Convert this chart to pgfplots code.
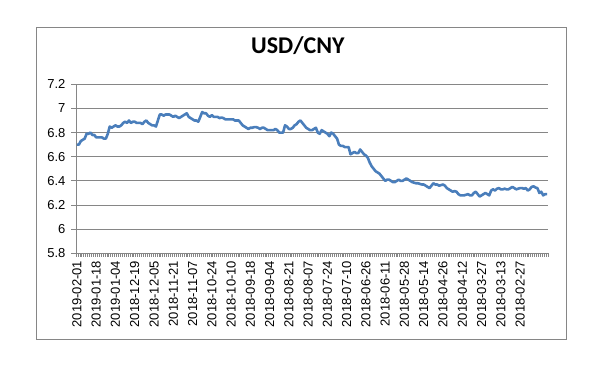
\documentclass[border=0pt]{standalone}
\usepackage{fontspec}
\setmainfont{Liberation Sans}
\newfontfamily\titlefont{Carlito}
\usepackage{pgfplots}
\usepackage{pgfplotstable}
\pgfplotsset{compat=1.18}
\definecolor{excelblue}{RGB}{74,126,187}
\definecolor{gridgray}{RGB}{134,134,134}
\definecolor{boxgray}{RGB}{134,134,134}
\pgfplotstableread{
v
6.70
6.70
6.73
6.74
6.75
6.79
6.79
6.80
6.78
6.78
6.76
6.76
6.76
6.76
6.75
6.75
6.79
6.85
6.84
6.85
6.86
6.85
6.85
6.86
6.88
6.89
6.88
6.90
6.88
6.89
6.89
6.88
6.88
6.88
6.87
6.89
6.90
6.88
6.87
6.86
6.86
6.85
6.90
6.95
6.95
6.94
6.95
6.95
6.95
6.94
6.93
6.94
6.93
6.92
6.93
6.94
6.95
6.96
6.93
6.92
6.91
6.90
6.90
6.89
6.93
6.97
6.96
6.96
6.94
6.93
6.945
6.93
6.93
6.93
6.92
6.925
6.92
6.91
6.91
6.91
6.91
6.91
6.90
6.90
6.90
6.88
6.86
6.85
6.84
6.83
6.84
6.84
6.845
6.845
6.84
6.83
6.84
6.84
6.83
6.82
6.82
6.82
6.82
6.83
6.82
6.80
6.80
6.80
6.86
6.85
6.83
6.83
6.84
6.86
6.87
6.89
6.90
6.88
6.86
6.84
6.83
6.82
6.82
6.83
6.84
6.80
6.79
6.82
6.81
6.80
6.79
6.77
6.80
6.79
6.77
6.75
6.70
6.69
6.69
6.68
6.68
6.68
6.62
6.63
6.64
6.63
6.63
6.66
6.64
6.62
6.61
6.59
6.55
6.52
6.50
6.48
6.47
6.46
6.44
6.42
6.40
6.41
6.41
6.40
6.39
6.39
6.40
6.41
6.40
6.40
6.41
6.42
6.41
6.40
6.39
6.385
6.38
6.38
6.375
6.37
6.37
6.36
6.35
6.34
6.36
6.38
6.37
6.37
6.36
6.365
6.37
6.36
6.34
6.33
6.32
6.31
6.315
6.31
6.29
6.28
6.28
6.28
6.285
6.29
6.28
6.28
6.30
6.31
6.29
6.27
6.28
6.29
6.30
6.29
6.28
6.32
6.33
6.32
6.335
6.34
6.33
6.33
6.335
6.33
6.33
6.34
6.35
6.34
6.33
6.335
6.34
6.34
6.335
6.34
6.32
6.33
6.35
6.355
6.345
6.34
6.30
6.31
6.28
6.29
6.29
}\usdcny
\begin{document}
\begin{tikzpicture}
\useasboundingbox (0,0) rectangle (615pt,366pt);
\fill[white] (0,0) rectangle (615pt,366pt);
\draw[boxgray, line width=0.75pt] (36pt,27pt) rectangle (566pt,339pt);
\begin{axis}[
  at={(76pt,112.7pt)}, anchor=south west,
  scale only axis,
  width=472pt, height=169pt,
  xmin=-0.5, xmax=244.5,
  ymin=5.8, ymax=7.2,
  ytick={5.8,6.0,6.2,6.4,6.6,6.8,7.0,7.2},
  xtick={0,10,...,230},
  xticklabels={2019-02-01,2019-01-18,2019-01-04,2018-12-19,2018-12-05,2018-11-21,2018-11-07,2018-10-24,2018-10-10,2018-09-18,2018-09-04,2018-08-21,2018-08-07,2018-07-24,2018-07-10,2018-06-26,2018-06-11,2018-05-28,2018-05-14,2018-04-26,2018-04-12,2018-03-27,2018-03-13,2018-02-27},
  minor xtick={-0.5,0.5,...,244.5},
  major x tick style={draw=none},
  minor x tick style={gridgray, line width=0.6pt},
  minor tick length=3.5pt,
  major tick length=5pt,
  y tick style={gridgray, line width=0.75pt},
  tick align=outside,
  axis x line*=bottom,
  axis y line*=left,
  axis line style={gridgray, line width=0.75pt, -},
  ymajorgrids,
  grid style={gridgray, line width=0.75pt},
  /pgf/number format/assume math mode=true,
  tick label style={font=\fontsize{13}{15}\selectfont, black},
  yticklabel style={xshift=-2pt},
  xticklabel style={rotate=90, anchor=east, xshift=1pt},
  title={\titlefont\bfseries\fontsize{24}{28}\selectfont USD/CNY},
  title style={at={(0.47,1)}, anchor=base, yshift=25pt},
  clip=false,
]
\addplot[excelblue, line width=2.6pt, line join=round, no marks] table[x expr=\coordindex, y=v] {\usdcny};
\end{axis}
\end{tikzpicture}
\end{document}
